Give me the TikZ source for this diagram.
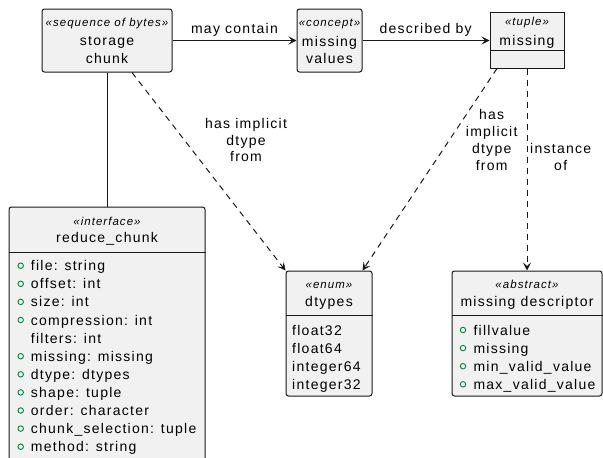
\documentclass[tikz,border=0pt]{standalone}
\usepackage{fontspec}
\setmainfont[LetterSpace=9]{Liberation Sans}
\usetikzlibrary{arrows.meta}
\definecolor{boxfill}{HTML}{F1F1F1}
\definecolor{boxline}{HTML}{181818}
\definecolor{pubgreen}{HTML}{038048}

\begin{document}
\begin{tikzpicture}[x=1pt,y=-1pt,
		box/.style={draw=boxline,fill=boxfill,line width=1pt,rounded corners=2.5pt,inner sep=0pt},
		txt/.style={font=\fontsize{14}{17}\selectfont,inner sep=0pt,anchor=base},
		stereo/.style={font=\fontsize{11.5}{14}\selectfont\itshape,inner sep=0pt,anchor=base},
		lbl/.style={font=\fontsize{14}{16.7}\selectfont,inner sep=0pt,anchor=base,align=center},
		assoc/.style={draw=boxline,line width=1pt,-{Stealth[length=8pt,width=8pt,inset=3.5pt]}},
		dep/.style={assoc,dash pattern=on 6pt off 5pt},
		dot/.style={circle,draw=pubgreen,line width=0.9pt,minimum size=5.5pt,inner sep=0pt}]
		\clip(0,0)rectangle(603,458);
		% boxes
		\node[box,minimum width=130pt,minimum height=63pt](chunk)at(107,40.5){};
		\node[stereo](chunk-st)at(107,26.7){«sequence of bytes»};
		\node[txt](chunk-t1)at(107,45.9){storage};
		\node[txt](chunk-t2)at(107,63.3){chunk};
		\node[box,minimum width=65pt,minimum height=63pt](concept)at(329.5,40.5){};
		\node[stereo](concept-st)at(329.5,26.7){«concept»};
		\node[txt](concept-t1)at(329.5,46){missing};
		\node[txt](concept-t2)at(329.5,63.3){values};
		\node[box,sharp corners,minimum width=74pt,minimum height=56pt](tuple)at(527,40){};
		\draw[boxline,line width=1pt](tuple.west|-0,50)--(tuple.east|-0,50);
		\node[stereo](tuple-st)at(527,25.3){«tuple»};
		\node[txt](tuple-t1)at(527,45.7){missing};
		\node[box,minimum width=196pt,minimum height=273pt](reduce)at(107,343.5){};
		\draw[boxline,line width=1pt](reduce.west|-0,252)--(reduce.east|-0,252);
		\node[stereo](reduce-st)at(107,225){«interface»};
		\node[txt](reduce-t1)at(107,242.7){reduce\_chunk};
		\foreach \d/\t [count=\i from 0] in {1/file: string,1/offset: int,1/size: int,1/compression: int,0/filters: int,1/missing: missing,1/dtype: dtypes,1/shape: tuple,1/order: character,1/chunk\_selection: tuple,1/method: string}{
			\node[txt,anchor=base west](reduce-a\i)at(30.7,270.7+18.1*\i){\t};
			\ifnum\d=1 \node[dot](reduce-d\i)at(20.7,265.7+18.1*\i){};\fi
		}
		\node[box,minimum width=86pt,minimum height=125pt](dtypes)at(329,333.5){};
		\draw[boxline,line width=1pt](dtypes.west|-0,315)--(dtypes.east|-0,315);
		\node[stereo](dtypes-st)at(329,288.3){«enum»};
		\node[txt](dtypes-t1)at(329,306.7){dtypes};
		\foreach \t [count=\i from 0] in {float32,float64,integer64,integer32}
			\node[txt,anchor=base west](dtypes-a\i)at(292,335+18.1*\i){\t};
		\node[box,minimum width=150pt,minimum height=125pt](descriptor)at(527,333.5){};
		\draw[boxline,line width=1pt](descriptor.west|-0,315)--(descriptor.east|-0,315);
		\node[stereo](descriptor-st)at(527,288.3){«abstract»};
		\node[txt](descriptor-t1)at(527,306.7){missing descriptor};
		\foreach \t [count=\i from 0] in {fillvalue,missing,min\_valid\_value,max\_valid\_value}{
			\node[txt,anchor=base west](descriptor-a\i)at(473.3,335+18.1*\i){\t};
			\node[dot](descriptor-d\i)at(463,330+18.1*\i){};
		}
		% connectors
		\draw[assoc](chunk)--(concept);
		\draw[assoc](concept.east)--(concept.east-|tuple.west);
		\draw[boxline,line width=1pt](chunk)--(reduce);
		\draw[dep]([xshift=25pt]chunk.south)--(dtypes.north west);
		\draw[dep]([xshift=-30pt]tuple.south)--([xshift=-10pt]dtypes.north east);
		\draw[dep](tuple)--(descriptor);
		% labels
		\node[lbl](lab-mc)at(234.5,33.3){may contain};
		\node[lbl](lab-db)at(425.6,33.3){described by};
		\node[lbl](lab-hi1)at(246,161.7){has implicit\\dtype\\from};
		\node[lbl](lab-hi2)at(491.7,170){has\\implicit\\dtype\\from};
		\node[lbl](lab-io)at(560.7,170){instance\\of};
	\end{tikzpicture}
\end{document}
